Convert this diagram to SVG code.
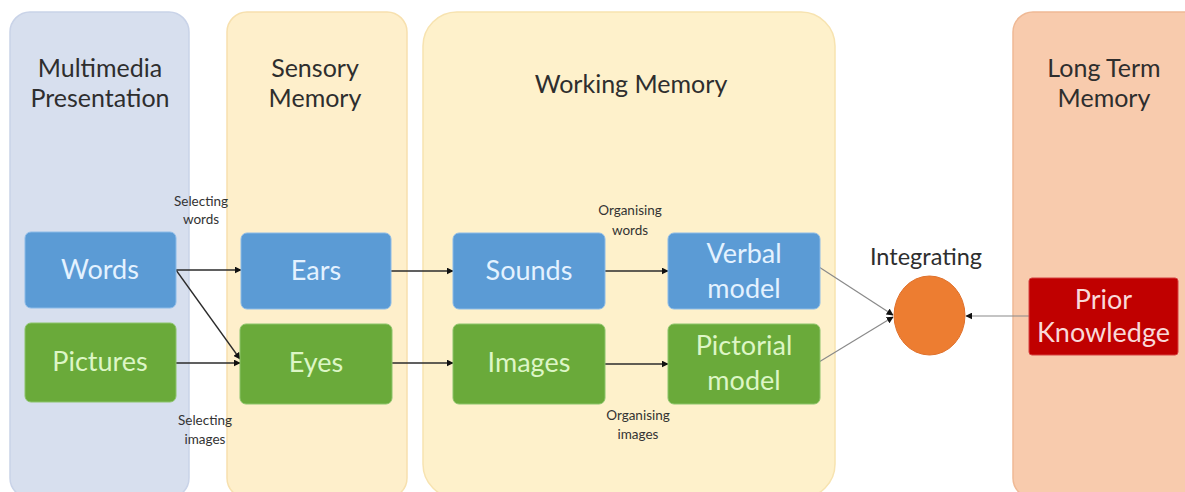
<svg xmlns="http://www.w3.org/2000/svg" width="1185" height="492" viewBox="0 0 1185 492">
  <style>
    .panel-title { font-family: Lato, "Open Sans", sans-serif; font-size: 25px; fill: #2e2e2e; text-anchor: middle; }
    .int-label { font-family: Lato, "Open Sans", sans-serif; font-size: 23.5px; fill: #2e2e2e; text-anchor: middle; }
    .node-text { font-family: Lato, "Open Sans", sans-serif; font-size: 27px; text-anchor: middle; }
    .blue rect { fill: #5B9BD5; stroke: #8CBBE8; stroke-width: 1; }
    .blue text { fill: #E4F2FF; }
    .green rect { fill: #6AAA3A; stroke: #8CC46A; stroke-width: 1; }
    .green text { fill: #DDF6C6; }
    .small { font-family: Lato, "Open Sans", sans-serif; font-size: 13.5px; fill: #333; text-anchor: middle; }
    .link { fill: none; stroke: #2b2b2b; stroke-width: 1.3; marker-end: url(#arrow); }
    .link-thin { fill: none; stroke: #8a8a8a; stroke-width: 1.2; marker-end: url(#arrow); }
  </style>
  <defs>
    <marker id="arrow" viewBox="0 0 10 10" refX="9" refY="5" markerWidth="7" markerHeight="7" markerUnits="userSpaceOnUse" orient="auto">
      <path d="M0,0 L10,5 L0,10 z" fill="#111"/>
    </marker>
  </defs>

  <rect width="1185" height="492" fill="#ffffff"/>

  <!-- stage panels -->
  <g id="panel-multimedia">
    <rect x="10" y="12" width="179" height="486" rx="20" fill="#D7DFEE" stroke="#C9D3E8" stroke-width="1.5"/>
    <text class="panel-title" x="100" y="77">Multimedia</text>
    <text class="panel-title" x="100" y="107">Presentation</text>
  </g>
  <g id="panel-sensory">
    <rect x="227" y="12" width="180" height="486" rx="20" fill="#FEEFCB" stroke="#F7E0AE" stroke-width="1.5"/>
    <text class="panel-title" x="315" y="77">Sensory</text>
    <text class="panel-title" x="315" y="107">Memory</text>
  </g>
  <g id="panel-working">
    <rect x="423" y="12" width="412" height="486" rx="34" fill="#FEF1CB" stroke="#F7E3B0" stroke-width="1.5"/>
    <text class="panel-title" x="631" y="93">Working Memory</text>
  </g>
  <g id="panel-longterm">
    <rect x="1013" y="12" width="190" height="486" rx="20" fill="#F8CBAD" stroke="#EFB995" stroke-width="1.5"/>
    <text class="panel-title" x="1104" y="77">Long Term</text>
    <text class="panel-title" x="1104" y="107">Memory</text>
  </g>

  <!-- connectors -->
  <g id="connectors">
    <line class="link" x1="176" y1="270" x2="241" y2="270"/>
    <line class="link" x1="176" y1="270" x2="240" y2="359"/>
    <line class="link" x1="176" y1="363" x2="240" y2="363"/>
    <line class="link" x1="391" y1="271" x2="453" y2="271"/>
    <line class="link" x1="392" y1="363" x2="453" y2="363"/>
    <line class="link" x1="605" y1="271" x2="668" y2="271"/>
    <line class="link" x1="605" y1="364" x2="668" y2="364"/>
    <line class="link-thin" x1="819" y1="267" x2="893" y2="315"/>
    <line class="link-thin" x1="819" y1="362" x2="893" y2="317"/>
    <line class="link-thin" x1="1029" y1="316" x2="966" y2="316"/>
    <text class="small" x="201" y="206">Selecting</text>
    <text class="small" x="201" y="224">words</text>
    <text class="small" x="205" y="425">Selecting</text>
    <text class="small" x="205" y="444">images</text>
    <text class="small" x="630" y="215">Organising</text>
    <text class="small" x="630" y="235">words</text>
    <text class="small" x="638" y="420">Organising</text>
    <text class="small" x="638" y="439">images</text>
  </g>

  <!-- nodes -->
  <g id="node-words" class="blue">
    <rect x="25" y="232" width="151" height="76" rx="6"/>
    <text class="node-text" x="100" y="279">Words</text>
  </g>
  <g id="node-pictures" class="green">
    <rect x="25" y="323" width="151" height="79" rx="6"/>
    <text class="node-text" x="100" y="371">Pictures</text>
  </g>
  <g id="node-ears" class="blue">
    <rect x="241" y="233" width="150" height="76" rx="6"/>
    <text class="node-text" x="316" y="280">Ears</text>
  </g>
  <g id="node-eyes" class="green">
    <rect x="240" y="324" width="152" height="80" rx="6"/>
    <text class="node-text" x="316" y="372">Eyes</text>
  </g>
  <g id="node-sounds" class="blue">
    <rect x="453" y="233" width="152" height="76" rx="6"/>
    <text class="node-text" x="529" y="280">Sounds</text>
  </g>
  <g id="node-images" class="green">
    <rect x="453" y="324" width="152" height="80" rx="6"/>
    <text class="node-text" x="529" y="372">Images</text>
  </g>
  <g id="node-verbal" class="blue">
    <rect x="668" y="233" width="152" height="76" rx="6"/>
    <text class="node-text" x="744" y="263">Verbal</text>
    <text class="node-text" x="744" y="298">model</text>
  </g>
  <g id="node-pictorial" class="green">
    <rect x="668" y="324" width="152" height="80" rx="6"/>
    <text class="node-text" x="744" y="355">Pictorial</text>
    <text class="node-text" x="744" y="390">model</text>
  </g>
  <g id="node-integrating">
    <ellipse cx="929.5" cy="315.5" rx="35.5" ry="39.5" fill="#ED7D31" stroke="#E0702A" stroke-width="1"/>
    <text class="int-label" x="926" y="265">Integrating</text>
  </g>
  <g id="node-prior">
    <rect x="1029" y="278" width="149" height="77" rx="3" fill="#C00000" stroke="#D64040" stroke-width="1"/>
    <text class="node-text" x="1103.5" y="309" fill="#F9D9D9">Prior</text>
    <text class="node-text" x="1103.5" y="342" fill="#F9D9D9">Knowledge</text>
  </g>
</svg>
